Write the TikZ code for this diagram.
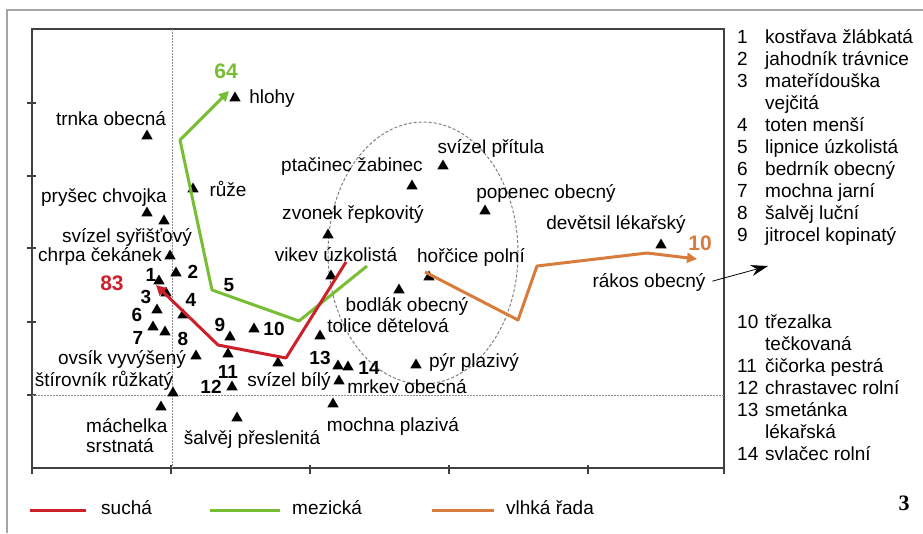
\documentclass[tikz,border=0pt]{standalone}
\usepackage{fontspec}
\setmainfont{Liberation Sans}
\newfontfamily\serifnum{Liberation Serif}
\usepackage{xcolor}
\usetikzlibrary{arrows.meta,positioning,shapes.geometric}
\definecolor{sucha}{RGB}{205,32,42}
\definecolor{mezicka}{RGB}{120,190,52}
\definecolor{vlhka}{RGB}{215,124,60}

\begin{document}
\begin{tikzpicture}[
  x=1pt, y=-1pt,
  font=\fontsize{19}{22}\selectfont,
  spec/.style={regular polygon, regular polygon sides=3, fill=black, inner sep=0pt, minimum size=13pt},
  lbl/.style={inner sep=0pt, text height=13.5pt, text depth=4pt},
  num/.style={inner sep=0pt, text height=13.5pt, text depth=0pt, font=\fontsize{19}{22}\selectfont\bfseries},
  bignum/.style={inner sep=0pt, font=\fontsize{21}{24}\selectfont\bfseries},
  trend/.style={line width=3pt, line join=round, -{Triangle[length=10pt,width=10pt]}},
  keyline/.style={line width=3pt},
  axisline/.style={line width=1.5pt, draw=black!75},
  guide/.style={line width=1pt, draw=black!45, dash pattern=on 1.5pt off 1.5pt},
  pointer/.style={line width=0.8pt, -{Stealth[length=17pt,width=11pt]}}
]
\useasboundingbox (0,0) rectangle (923,533);
\draw[line width=1.5pt, black!35] (7,533) -- (7,10) -- (923,10);

% plot frame
\draw[axisline] (32,29) rectangle (724,468);
\draw[axisline] (27,103) -- (36,103) (27,176) -- (36,176) (27,248) -- (36,248)
  (27,322) -- (36,322) (27,395) -- (36,395)
  (171,465) -- (171,474) (310,465) -- (310,474) (449,465) -- (449,474)
  (588,465) -- (588,474) (724,468) -- (724,474) (32,468) -- (32,474);
\draw[guide] (172,29) -- (172,468);
\draw[guide] (32,395) -- (724,395);
\draw[line width=1pt, draw=black!50, dash pattern=on 3pt off 2pt] (423,253) ellipse [x radius=95pt, y radius=131pt];

% species
\node[spec] (hlohy) at (235,98) {};
\node[spec] (trnka) at (147,136) {};
\node[spec] (ruze) at (193,189) {};
\node[spec] (prysec) at (147,213) {};
\node[spec] (syris) at (164,221) {};
\node[spec] (chrpa) at (170,256) {};
\node[spec] (s1) at (159,281) {};
\node[spec] (s2) at (176,273) {};
\node[spec] (s3) at (166,293) {};
\node[spec] (s4) at (183,315) {};
\node[spec] (s6) at (157,310) {};
\node[spec] (s7a) at (153,327) {};
\node[spec] (s7b) at (165,332) {};
\node[spec] (ovsik) at (196,356) {};
\node[spec] (stirov) at (173,393) {};
\node[spec] (machel) at (161,407) {};
\node[spec] (s9) at (230,337) {};
\node[spec] (s10) at (254,329) {};
\node[spec] (s11) at (228,354) {};
\node[spec] (s12) at (232,387) {};
\node[spec] (salvej) at (237,418) {};
\node[spec] (svbily) at (278,363) {};
\node[spec] (mochna) at (333,404) {};
\node[spec] (tolice) at (320,336) {};
\node[spec] (s13a) at (338,366) {};
\node[spec] (s13b) at (348,367) {};
\node[spec] (mrkev) at (339,381) {};
\node[spec] (vikev) at (331,276) {};
\node[spec] (zvonek) at (328,235) {};
\node[spec] (ptac) at (412,186) {};
\node[spec] (pritula) at (443,166) {};
\node[spec] (popenec) at (485,211) {};
\node[spec] (devet) at (661,245) {};
\node[spec] (horcice) at (429,277) {};
\node[spec] (bodlak) at (399,290) {};
\node[spec] (pyr) at (416,365) {};

% labels
\node[lbl] (lhlohy) at (272,99) {hlohy};
\node[lbl] (ltrnka) at (111,121) {trnka obecná};
\node[lbl] (lruze) at (228,192) {růže};
\node[lbl] (lprysec) at (104,198) {pryšec chvojka};
\node[lbl] (lsyris) at (127,238) {svízel syřišťový};
\node[lbl] (lchrpa) at (100,257) {chrpa čekánek};
\node[lbl] (lovsik) at (122,360) {ovsík vyvýšený};
\node[lbl] (lstirov) at (104,382) {štírovník růžkatý};
\node[lbl, anchor=west] (lmachel) at (86,428) {máchelka};
\node[lbl, anchor=west] (lmachel2) at (86,448) {srstnatá};
\node[lbl] (lsalvej) at (252,440) {šalvěj přeslenitá};
\node[lbl] (lsvbily) at (289,382) {svízel bílý};
\node[lbl] (lmochna) at (393,427) {mochna plazivá};
\node[lbl] (ltolice) at (388,328) {tolice dětelová};
\node[lbl] (lbodlak) at (407,307) {bodlák obecný};
\node[lbl] (lmrkev) at (407,389) {mrkev obecná};
\node[lbl] (lpyr) at (474,363) {pýr plazivý};
\node[lbl] (lvikev) at (336,257) {vikev úzkolistá};
\node[lbl] (lzvonek) at (353,215) {zvonek řepkovitý};
\node[lbl] (lptac) at (352,167) {ptačinec žabinec};
\node[lbl] (lpritula) at (491,149) {svízel přítula};
\node[lbl] (lpopenec) at (546,194) {popenec obecný};
\node[lbl] (lhorcice) at (471,258) {hořčice polní};
\node[lbl] (ldevet) at (616,225) {devětsil lékařský};
\node[lbl] (lrakos) at (649,283) {rákos obecný};

\node[num] (n1) at (151,275) {1};
\node[num] (n2) at (193,272) {2};
\node[num] (n3) at (146,297) {3};
\node[num] (n4) at (191,300) {4};
\node[num] (n5) at (229,285) {5};
\node[num] (n6) at (137,315) {6};
\node[num] (n7) at (138,338) {7};
\node[num] (n8) at (183,339) {8};
\node[num] (n9) at (220,325) {9};
\node[num] (n10) at (274,329) {10};
\node[num] (n11) at (228,372) {11};
\node[num] (n12) at (211,387) {12};
\node[num] (n13) at (320,358) {13};
\node[num] (n14) at (369,368) {14};

% trend lines
\coordinate (r0) at (346,262);
\coordinate (r1) at (286,358);
\coordinate (r2) at (218,345);
\coordinate (r3) at (156,285);
\coordinate (g0) at (367,266);
\coordinate (g1) at (299,321);
\coordinate (g2) at (212,290);
\coordinate (g3) at (180,140);
\coordinate (g4) at (229,91);
\coordinate (o0) at (425,272);
\coordinate (o1) at (518,320);
\coordinate (o2) at (537,266);
\coordinate (o3) at (647,253);
\coordinate (o4) at (697,259);
\draw[trend, mezicka] (g0) -- (g1) -- (g2) -- (g3) -- (g4);
\draw[trend, sucha] (r0) -- (r1) -- (r2) -- (r3);
\draw[trend, vlhka] (o0) -- (o1) -- (o2) -- (o3) -- (o4);
\node[bignum, text=sucha] (lsucha) at (112,283) {83};
\node[bignum, text=mezicka] (lmezi) at (226,71) {64};
\node[bignum, text=vlhka] (lvlhka) at (700,243) {10};

\coordinate (rakosend) at (768,266);
\draw[pointer, shorten <=7pt] (lrakos.east) -- (rakosend);

% species key
\node[anchor=north west, inner sep=0pt] (list1) at (737,28) {\begin{tabular}{@{}p{28pt}@{}l@{}}
1 & kostřava žlábkatá\\ 2 & jahodník trávnice\\ 3 & mateřídouška\\ & vejčitá\\
4 & toten menší\\ 5 & lipnice úzkolistá\\ 6 & bedrník obecný\\ 7 & mochna jarní\\
8 & šalvěj luční\\ 9 & jitrocel kopinatý\end{tabular}};
\node[anchor=north west, inner sep=0pt] (list2) at (737,313) {\begin{tabular}{@{}p{28pt}@{}l@{}}
10 & třezalka\\ & tečkovaná\\ 11 & čičorka pestrá\\ 12 & chrastavec rolní\\
13 & smetánka\\ & lékařská\\ 14 & svlačec rolní\end{tabular}};

% legend
\draw[keyline, sucha] (30,510) -- (86,510);
\node[lbl, anchor=west] (ksucha) at (101,510) {suchá};
\draw[keyline, mezicka] (210,510) -- (280,510);
\node[lbl, anchor=west] (kmezi) at (292,510) {mezická};
\draw[keyline, vlhka] (432,510) -- (494,510);
\node[lbl, anchor=west] (kvlhka) at (506,510) {vlhká řada};
\node[inner sep=0pt, font=\serifnum\fontsize{22}{24}\selectfont\bfseries] (pagenum) at (904,503) {3};
\end{tikzpicture}
\end{document}
